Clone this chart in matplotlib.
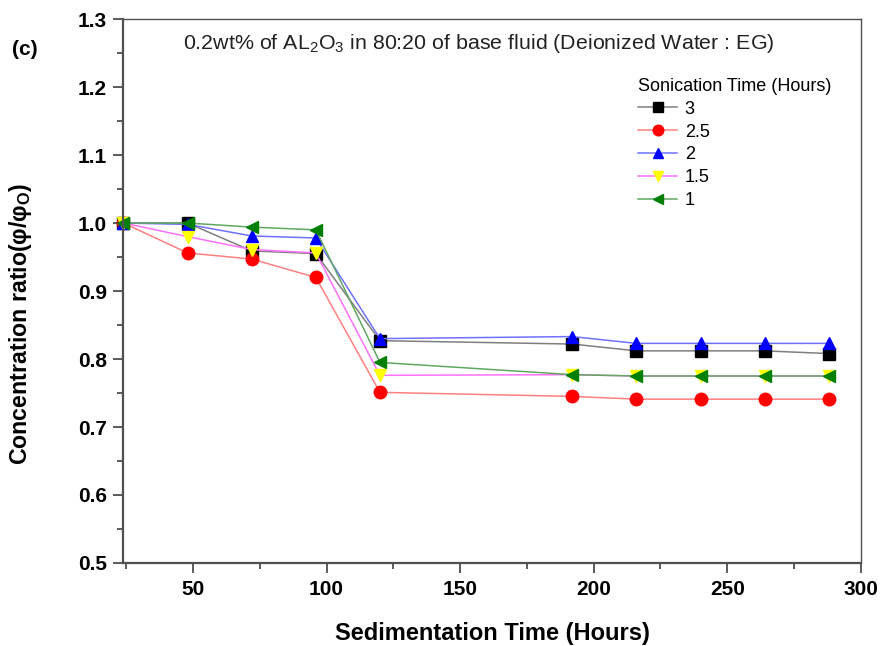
import matplotlib
matplotlib.use('Agg')
import matplotlib.pyplot as plt
from matplotlib.ticker import MultipleLocator

plt.rcParams['font.family'] = ['Liberation Sans', 'DejaVu Sans']
plt.rcParams['mathtext.fontset'] = 'custom'
plt.rcParams['mathtext.rm'] = 'Liberation Sans'
plt.rcParams['mathtext.bf'] = 'Liberation Sans:bold'
plt.rcParams['mathtext.default'] = 'regular'

# sedimentation time (hours)
hours = [24, 48, 72, 96, 120, 192, 216, 240, 264, 288]

# concentration ratio for each sonication time
sonic_3 = [1.000, 1.000, 0.959, 0.955, 0.827, 0.822, 0.812, 0.812, 0.812, 0.808]
sonic_2_5 = [1.000, 0.956, 0.947, 0.920, 0.751, 0.745, 0.741, 0.741, 0.741, 0.741]
sonic_2 = [1.000, 0.998, 0.981, 0.978, 0.830, 0.833, 0.823, 0.823, 0.823, 0.823]
sonic_1_5 = [1.000, 0.980, 0.961, 0.956, 0.776, 0.777, 0.775, 0.775, 0.775, 0.775]
sonic_1 = [1.000, 1.000, 0.994, 0.990, 0.795, 0.777, 0.775, 0.775, 0.775, 0.775]

series = [
    ('3', sonic_3, 's', 'black', '#7f7f7f'),
    ('2.5', sonic_2_5, 'o', 'red', '#ff8080'),
    ('2', sonic_2, '^', 'blue', '#7070ff'),
    ('1.5', sonic_1_5, 'v', 'yellow', '#ff70ff'),
    ('1', sonic_1, '<', 'green', '#60a860'),
]

fig = plt.figure(figsize=(8.82, 6.46), dpi=100)
ax = fig.add_axes([0.140, 0.1285, 0.836, 0.842])

for label, vals, mk, mc, lc in series:
    ax.plot(hours, vals, color=lc, linewidth=1.1, marker=mk, markersize=9,
            markerfacecolor=mc, markeredgecolor=mc, label=label, clip_on=False)

ax.set_xlim(24, 300)
ax.set_ylim(0.5, 1.3)
ax.xaxis.set_major_locator(MultipleLocator(50))
ax.xaxis.set_minor_locator(MultipleLocator(25))
ax.yaxis.set_major_locator(MultipleLocator(0.1))
ax.yaxis.set_minor_locator(MultipleLocator(0.05))
ax.tick_params(which='both', direction='out', color='#404040', width=1.2)
ax.tick_params(which='major', length=7, labelsize=15, pad=5)
ax.tick_params(which='minor', length=4)
for lab in ax.get_xticklabels() + ax.get_yticklabels():
    lab.set_fontweight('bold')
for sp in ax.spines.values():
    sp.set_color('#505050')
    sp.set_linewidth(1.0)
ax.spines['left'].set_linewidth(1.6)
ax.spines['bottom'].set_linewidth(1.6)

ax.set_xlabel('Sedimentation Time (Hours)', fontsize=17, fontweight='bold', va='center')
ax.xaxis.set_label_coords(0.5, -0.129)
ax.set_ylabel(r'Concentration ratio($\mathbf{φ/φ_O}$)', fontsize=16.7,
              fontweight='bold', va='center')
ax.yaxis.set_label_coords(-0.140, 0.44)

ax.text(0.482, 0.955, r'0.2wt% of AL$_2$O$_3$ in 80:20 of base fluid (Deionized Water : EG)',
        transform=ax.transAxes, ha='center', va='center', fontsize=15.4, color='#222222')
fig.text(0.014, 0.915, '(c)', fontsize=15, fontweight='bold')

leg = ax.legend(title='Sonication Time (Hours)', loc='upper left',
                bbox_to_anchor=(0.695, 0.895), frameon=False, fontsize=13,
                title_fontsize=13, handlelength=2.2, handletextpad=0.4,
                labelspacing=0.32, markerscale=0.85, borderpad=0.1,
                borderaxespad=0)
leg._legend_box.align = 'left'

fig.savefig('out.png', dpi=100)
